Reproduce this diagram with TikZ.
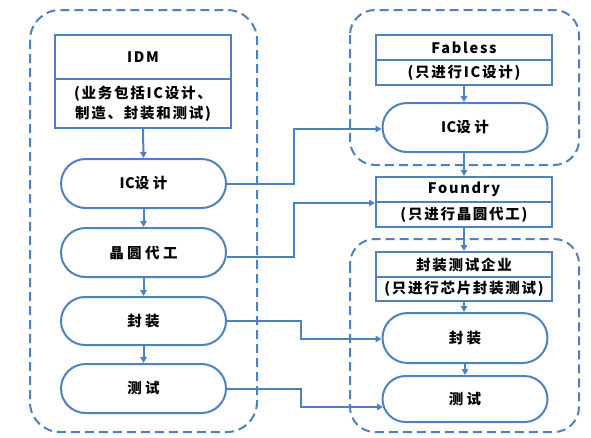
\documentclass[tikz,border=0pt]{standalone}
\usepackage{fontspec}
\setmainfont{Noto Sans CJK SC}
\usetikzlibrary{arrows.meta,shapes.misc,calc}
\definecolor{bl}{RGB}{79,129,189}
\newcommand{\tightlat}[1]{{\addfontfeature{LetterSpace=4}#1}}
\begin{document}
\begin{tikzpicture}[x=1pt,y=-1pt,
  txt/.style={font=\fontsize{14.5}{20}\selectfont\bfseries\addfontfeature{LetterSpace=12}},
  ptxt/.style={font=\fontsize{14.5}{20}\selectfont\bfseries\addfontfeature{LetterSpace=24}},
  group/.style={draw=bl, dash pattern=on 9pt off 5pt, line width=2pt},
  box/.style={draw=bl, line width=2pt, rectangle, inner sep=0pt, minimum width=176pt, align=center, fill=white, txt},
  pill/.style={draw=bl, line width=2pt, rounded rectangle, minimum width=165pt, inner sep=0pt, fill=white, ptxt},
  conn/.style={draw=bl, line width=2pt, -{Triangle[length=6pt,width=6.5pt]}}]
\useasboundingbox (0,0) rectangle (591,437);
% dashed groups
\draw[group, rounded corners=30pt] (30,10) rectangle (257,432);
\draw[group, rounded corners=25pt] (350,10) rectangle (579,165);
\draw[group, rounded corners=25pt] (350,239) rectangle (579,432);
% left column
\node[box, minimum height=44pt] (idmA) at (143,57) {IDM};
\node[box, minimum height=49pt] (idmB) at (143,103.5) {(业务包括IC设计、\\制造、封装和测试)};
\node[pill, minimum height=49pt] (ic1) at (143.5,183.5) {\tightlat{IC}设计};
\node[pill, minimum height=49pt] (wf1) at (143.5,252.5) {晶圆代工};
\node[pill, minimum height=48pt] (pk1) at (143.5,321) {封装};
\node[pill, minimum height=49pt] (ts1) at (143.5,388.5) {测试};
% right column
\node[box, minimum height=25pt] (fabA) at (464,47.5) {Fabless};
\node[box, minimum height=25pt] (fabB) at (464,72.5) {(只进行IC设计)};
\node[pill, minimum height=49pt] (ic2) at (465,127.5) {\tightlat{IC}设计};
\node[box, minimum height=25pt] (fdA) at (464,189.5) {Foundry};
\node[box, minimum height=25pt] (fdB) at (464,214.5) {(只进行晶圆代工)};
\node[box, minimum height=25pt] (osA) at (464,264.5) {封装测试企业};
\node[box, minimum height=24pt] (osB) at (464,289) {(只进行芯片封装测试)};
\node[pill, minimum height=50pt] (pk2) at (465,338) {封装};
\node[pill, minimum height=46pt] (ts2) at (465,399) {测试};
% vertical arrows
\draw[conn] (idmB.south) -- (ic1.north);
\draw[conn] (ic1.south) -- (wf1.north);
\draw[conn] (wf1.south) -- (pk1.north);
\draw[conn] (pk1.south) -- (ts1.north);
\draw[conn] (fabB.south) -- (fabB.south |- ic2.north);
\draw[conn] (ic2.south -| fdA.north) -- (fdA.north);
\draw[conn] (fdB.south) -- (osA.north);
\draw[conn] (osB.south) -- (osB.south |- pk2.north);
\draw[conn] (pk2.south -| ts2.north) -- (ts2.north);
% cross connectors
\draw[conn] (ic1.east) -- ++(67,0) |- ($(ic2.west)+(0,1.5)$);
\draw[conn] ($(wf1.east)+(0,4)$) -- ++(67,0) |- (fdA.south west);
\draw[conn] (pk1.east) -- ++(74,0) |- ($(pk2.west)+(0,1)$);
\draw[conn] (ts1.east) -- ++(74,0) |- ($(ts2.west)+(1.5,8)$);
\end{tikzpicture}
\end{document}
